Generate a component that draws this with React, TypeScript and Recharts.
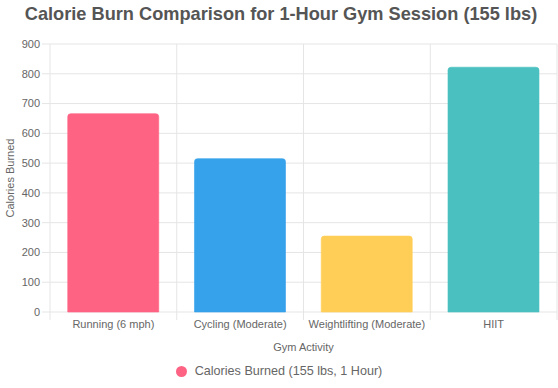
import { Bar, BarChart, CartesianGrid, Cell, Label, XAxis, YAxis } from "recharts";

const activities = ["Running (6 mph)", "Cycling (Moderate)", "Weightlifting (Moderate)", "HIIT"];
const calories = [666, 515, 255, 822];
const yTicks = [0, 100, 200, 300, 400, 500, 600, 700, 800, 900];
const COLORS = ["#ff6384", "#36a2eb", "#ffce56", "#4bc0c0"];

const data = activities.map((activity, i) => ({ activity, calories: calories[i] }));

const FONT = "'Liberation Sans', Arial, Helvetica, sans-serif";
const GRID = "#e5e5e5";

function ActivityTick(props: any) {
  const { x, y, payload, index } = props;
  const half = payload?.offset ?? 0;
  return (
    <g>
      <line x1={x - half} x2={x - half} y1={y - 8} y2={y} stroke={GRID} />
      {index === activities.length - 1 && (
        <line x1={x + half} x2={x + half} y1={y - 8} y2={y} stroke={GRID} />
      )}
      <text x={x} y={y + 8} textAnchor="middle" fontSize={11} fill="#666" fontFamily={FONT}>
        {payload.value}
      </text>
    </g>
  );
}

export default function App() {
  return (
    <div style={{ position: "absolute", left: 0, top: 0, width: 558, height: 388, background: "#fff", fontFamily: FONT }}>
      <div
        style={{
          position: "absolute",
          top: 4,
          left: 0,
          width: 562,
          textAlign: "center",
          fontSize: 18.2,
          fontWeight: "bold",
          color: "#555",
        }}
      >
        Calorie Burn Comparison for 1-Hour Gym Session (155 lbs)
      </div>
      <BarChart
        width={558}
        height={388}
        data={data}
        margin={{ top: 44, right: 1, left: 0, bottom: 34 }}
        barCategoryGap="14%"
      >
        <CartesianGrid
          stroke={GRID}
          verticalCoordinatesGenerator={({ offset }: any) =>
            [0, 1, 2, 3, 4].map((i) => offset.left + (i * offset.width) / activities.length)
          }
        />
        <XAxis
          dataKey="activity"
          axisLine={false}
          tickLine={false}
          height={42}
          interval={0}
          tick={<ActivityTick />}
          tickSize={8}
          tickMargin={0}
        >
          <Label value="Gym Activity" position="insideBottom" offset={3} fontSize={11} fill="#666" fontFamily={FONT} />
        </XAxis>
        <YAxis
          width={50}
          domain={[0, 900]}
          ticks={yTicks}
          axisLine={false}
          tickLine={{ stroke: GRID }}
          tickSize={8}
          tickMargin={2}
          tick={{ fontSize: 11, fill: "#666", fontFamily: FONT }}
        >
          <Label
            value="Calories Burned"
            angle={-90}
            position="insideLeft"
            offset={10}
            style={{ textAnchor: "middle", fontSize: 11, fill: "#666", fontFamily: FONT }}
          />
        </YAxis>
        <Bar dataKey="calories" radius={[3, 3, 0, 0]} strokeWidth={1} isAnimationActive={false}>
          {data.map((d, i) => (
            <Cell key={d.activity} fill={COLORS[i]} stroke={COLORS[i]} strokeOpacity={0.6} />
          ))}
        </Bar>
      </BarChart>
      <div
        style={{
          position: "absolute",
          top: 364,
          left: 0,
          width: 558,
          display: "flex",
          justifyContent: "center",
          alignItems: "center",
          fontSize: 12.6,
          color: "#666",
        }}
      >
        <span
          style={{ width: 11, height: 11, borderRadius: "50%", background: COLORS[0], marginRight: 8, display: "inline-block" }}
        />
        Calories Burned (155 lbs, 1 Hour)
      </div>
    </div>
  );
}
